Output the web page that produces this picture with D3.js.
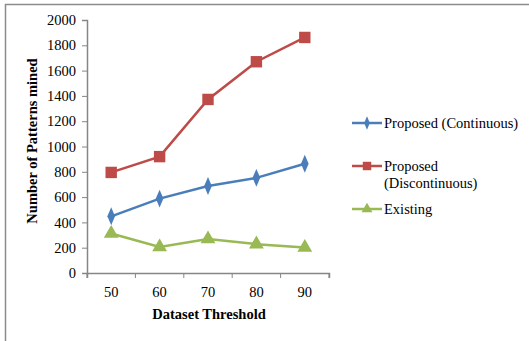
<!DOCTYPE html>
<html><head><meta charset="utf-8">
<script src="https://cdn.jsdelivr.net/npm/d3@7"></script>
<style>html,body{margin:0;padding:0;background:#fff;}svg{display:block;font-family:"Liberation Serif","Times New Roman",serif;}</style>
</head><body>
<script>
const categories = ["50","60","70","80","90"];
const seriesNames = ["Proposed (Continuous)","Proposed (Discontinuous)","Existing"];
const continuous = [448, 588, 688, 752, 864];
const discontinuous = [795, 920, 1372, 1670, 1862];
const existing = [312, 206, 268, 228, 202];
const yTicks = [0,200,400,600,800,1000,1200,1400,1600,1800,2000];
const colors = ["#4A7EBB","#BE4B48","#98B954"];

const W=529,H=341;
const svg=d3.select("body").append("svg").attr("width",W).attr("height",H);

// frame
svg.append("path").attr("d","M5.5,341 V4.5 H529").attr("fill","none").attr("stroke","#8c8c8c").attr("stroke-width",1.5);

const x=d3.scaleBand().domain(categories).range([87,329]);
const y=d3.scaleLinear().domain([0,2000]).range([273,20]);

const ya=svg.append("g").attr("transform","translate(87,0)")
  .call(d3.axisLeft(y).tickValues(yTicks).tickSize(5).tickPadding(6).tickFormat(d3.format("d")));
const xa=svg.append("g").attr("transform","translate(0,273)")
  .call(d3.axisBottom(x).tickSize(5).tickPadding(9));
xa.selectAll(".tick line").remove();
const bounds=categories.map(c=>x(c)).concat([x.range()[1]]);
xa.selectAll(".bt").data(bounds).enter().append("line").attr("x1",d=>d).attr("x2",d=>d).attr("y1",0).attr("y2",5).attr("stroke","#868686");
[ya,xa].forEach(a=>{
  a.select(".domain").attr("stroke","#868686").attr("stroke-width",1.5);
  a.selectAll(".tick line").attr("stroke","#868686");
  a.selectAll("text").attr("font-family","Liberation Serif").attr("font-size",14.5).attr("fill","#000");
});

svg.append("text").attr("transform","translate(37,141) rotate(-90)").attr("text-anchor","middle")
  .attr("font-size",14.5).attr("font-weight","bold").text("Number of Patterns mined");
svg.append("text").attr("x",209).attr("y",319).attr("text-anchor","middle")
  .attr("font-size",14.5).attr("font-weight","bold").text("Dataset Threshold");

const data=[continuous,discontinuous,existing];
const cx=c=>x(c)+x.bandwidth()/2;
const line=d3.line().x((d,i)=>cx(categories[i])).y(d=>y(d));
const symbols=[d3.symbolDiamond,d3.symbolSquare,d3.symbolTriangle];
const sizes=[70,130,95];

data.forEach((s,k)=>{
  svg.append("path").datum(s).attr("d",line).attr("fill","none").attr("stroke",colors[k]).attr("stroke-width",2.5);
  svg.selectAll(".m"+k).data(s).enter().append("path")
    .attr("transform",(d,i)=>`translate(${cx(categories[i])},${y(d)})${k===0?" scale(0.85,1.15)":""}`)
    .attr("d",d3.symbol().type(symbols[k]).size(sizes[k])).attr("fill",colors[k]);
});

// legend
const legY=[123,166,209];
const legText=[["Proposed (Continuous)"],["Proposed","(Discontinuous)"],["Existing"]];
legY.forEach((ly,k)=>{
  svg.append("line").attr("x1",352).attr("x2",382).attr("y1",ly).attr("y2",ly).attr("stroke",colors[k]).attr("stroke-width",2.5);
  svg.append("path").attr("transform",`translate(367,${ly})${k===0?" scale(0.85,1.15)":""}`)
    .attr("d",d3.symbol().type(symbols[k]).size(sizes[k]*0.55)).attr("fill",colors[k]);
  const t=svg.append("text").attr("x",384).attr("y",ly+4.5).attr("font-size",14.5);
  legText[k].forEach((s,j)=>t.append("tspan").attr("x",384).attr("dy",j?17:0).text(s));
});
</script>
</body></html>
